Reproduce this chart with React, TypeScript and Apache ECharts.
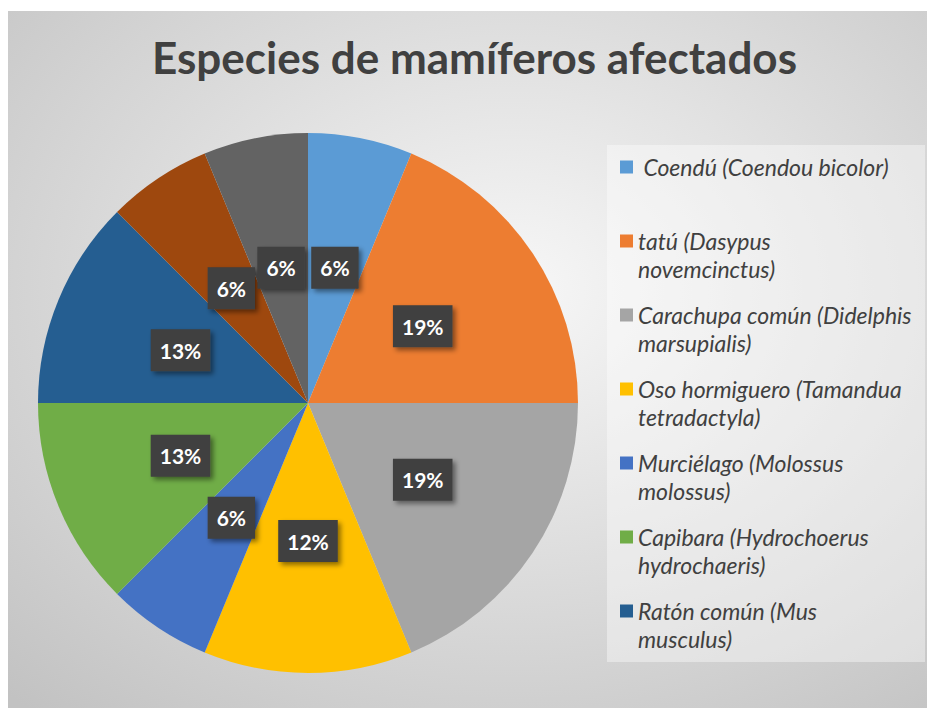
import React, { useEffect, useRef } from "react";
import * as echarts from "echarts";

const titleText = "Especies de mamíferos afectados";
const categories = [
  "Coendú (Coendou bicolor)",
  "tatú (Dasypus novemcinctus)",
  "Carachupa común (Didelphis marsupialis)",
  "Oso hormiguero (Tamandua tetradactyla)",
  "Murciélago (Molossus molossus)",
  "Capibara (Hydrochoerus hydrochaeris)",
  "Ratón común (Mus musculus)",
  "Especie 8",
  "Especie 9",
];
const values = [1, 3, 3, 2, 1, 2, 2, 1, 1];
const percentLabels = ["6%", "19%", "19%", "12%", "6%", "13%", "13%", "6%", "6%"];
const legendCount = 7;
const legendLines = [
  [" Coendú (Coendou bicolor)", " "],
  ["tatú (Dasypus", "novemcinctus)"],
  ["Carachupa común (Didelphis", "marsupialis)"],
  ["Oso hormiguero (Tamandua", "tetradactyla)"],
  ["Murciélago (Molossus", "molossus)"],
  ["Capibara (Hydrochoerus", "hydrochaeris)"],
  ["Ratón común (Mus", "musculus)"],
];
const colors = [
  "#5B9BD5",
  "#ED7D31",
  "#A5A5A5",
  "#FFC000",
  "#4472C4",
  "#70AD47",
  "#255E91",
  "#9E480E",
  "#636363",
];

const W = 919;
const H = 697;

export default function App() {
  const ref = useRef<HTMLDivElement>(null);
  useEffect(() => {
    if (!ref.current) return;
    const chart = echarts.init(ref.current, null, { renderer: "svg" });
    const lineH = 28;
    chart.setOption({
      animation: false,
      graphic: [
        {
          type: "rect",
          z: -20,
          silent: true,
          shape: { x: 0, y: 0, width: W, height: H },
          style: {
            fill: new echarts.graphic.RadialGradient(0.55, 0.4, 0.8, [
              { offset: 0, color: "#f7f7f7" },
              { offset: 1, color: "#c2c2c2" },
            ]),
          },
        },
        {
          type: "rect",
          z: -19,
          silent: true,
          shape: { x: 599, y: 134, width: 318, height: 517 },
          style: { fill: "rgba(255,255,255,0.4)" },
        },
      ],
      title: {
        text: titleText,
        left: 139,
        top: 19,
        textStyle: {
          fontFamily: "Lato",
          fontWeight: "bold",
          fontSize: 44,
          color: "#404040",
        },
      },
      legend: {
        orient: "vertical",
        left: 612,
        top: 114,
        padding: 0,
        itemWidth: 13,
        itemHeight: 13,
        itemGap: 74 - 3 * lineH,
        icon: "rect",
        selectedMode: false,
        data: categories.slice(0, legendCount),
        formatter: (name: string) =>
          " \n" + legendLines[categories.indexOf(name)].join("\n"),
        textStyle: {
          fontFamily: "Lato",
          fontStyle: "italic",
          fontSize: 23,
          color: "#404040",
          lineHeight: lineH,
        },
      },
      series: [
        {
          type: "pie",
          center: [300, 392],
          radius: 270,
          startAngle: 90,
          clockwise: true,
          color: colors,
          data: categories.map((name, i) => ({ name, value: values[i] })),
          labelLine: { show: false },
          labelLayout: { hideOverlap: false },
          emphasis: { disabled: true },
          label: {
            show: true,
            position: "inside",
            formatter: (p: any) => percentLabels[p.dataIndex],
            color: "#ffffff",
            fontFamily: "Lato",
            fontWeight: "bold",
            fontSize: 21,
            lineHeight: 22,
            backgroundColor: "#3f3f3f",
            padding: [10, 9, 10, 9],
            shadowColor: "rgba(0,0,0,0.45)",
            shadowBlur: 5,
            shadowOffsetX: 3,
            shadowOffsetY: 3,
          },
        },
      ],
    });
    return () => chart.dispose();
  }, []);
  return (
    <div
      ref={ref}
      style={{ position: "absolute", left: 8, top: 11, width: W, height: H }}
    />
  );
}
